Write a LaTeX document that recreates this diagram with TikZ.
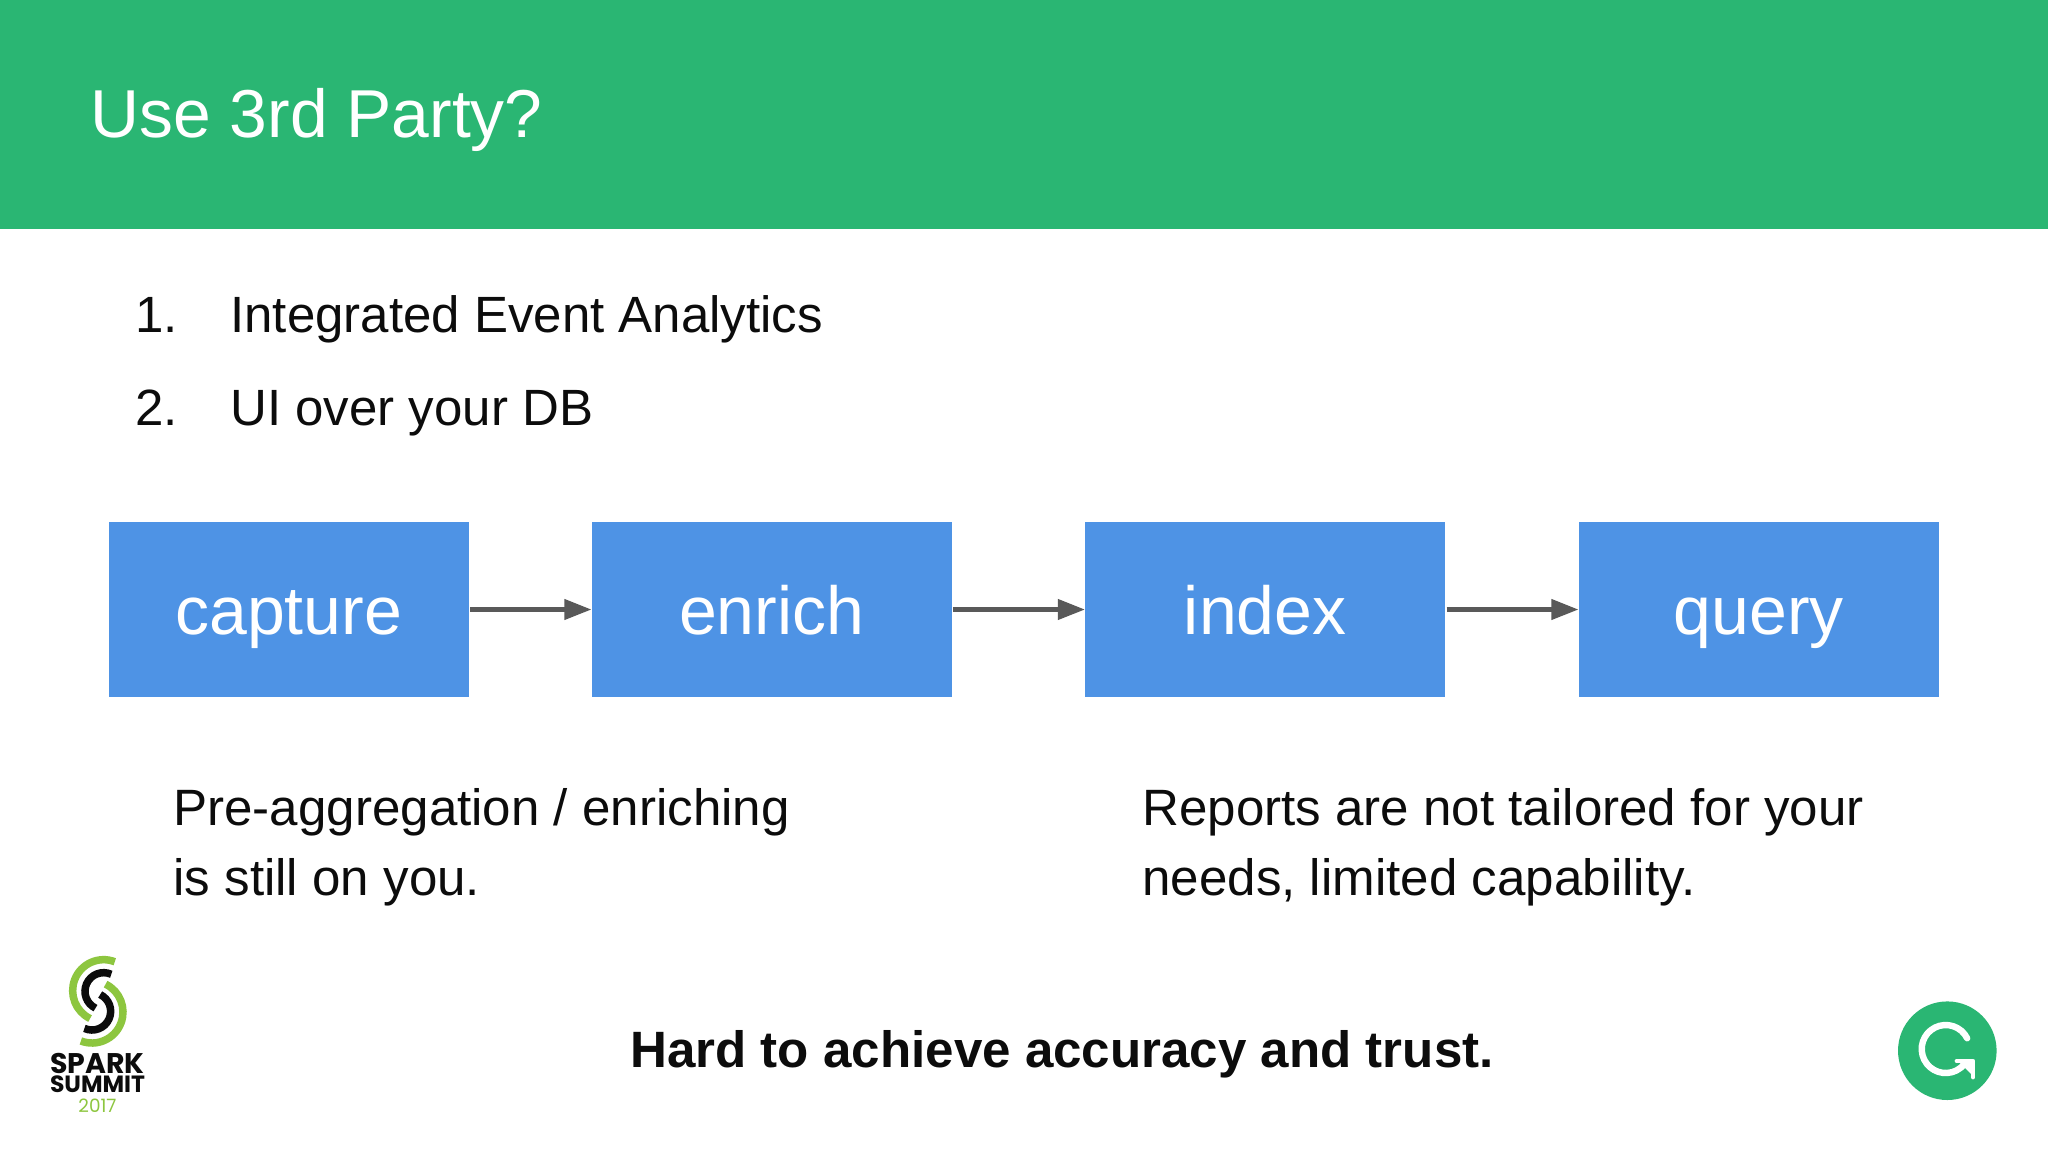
\documentclass[tikz,border=0pt]{standalone}
\usepackage{fontspec}
\setmainfont{Liberation Sans}
\newfontfamily\logofont{Poppins}
\usetikzlibrary{arrows.meta}
\definecolor{hdrgreen}{HTML}{2AB673}
\definecolor{boxblue}{HTML}{4E93E5}
\definecolor{arrowgray}{HTML}{595959}
\definecolor{sparkgreen}{HTML}{8DC63F}
\definecolor{inkblack}{HTML}{0C0C0C}
\tikzset{
  x=0.5pt,y=-0.5pt,
  stagebox/.style={draw=none,fill=boxblue,text=white,minimum width=180pt,minimum height=87.5pt,inner sep=0pt,
    font=\fontsize{34}{40}\selectfont,text height=25pt,text depth=0pt,align=center},
  flow/.style={draw=arrowgray,line width=2.1pt,-{Triangle[length=13.5pt,width=10pt]},shorten <=0.5pt,shorten >=0pt},
  bodytext/.style={inner sep=0pt,text=inkblack,font=\fontsize{25.5}{35.25}\selectfont},
  notetext/.style={inner sep=0pt,text=inkblack,align=left,anchor=base west,font=\fontsize{25.55}{35}\selectfont},
  greenarc/.style={draw=sparkgreen,line width=3.75pt},
  darkarc/.style={draw=inkblack,line width=3.75pt},
  logotext/.style={inner sep=0pt,anchor=base,text=inkblack},
}
\begin{document}
\begin{tikzpicture}
\useasboundingbox (0,0) rectangle (2048,1152);
\fill[white] (0,0) rectangle (2048,1152);
\fill[hdrgreen] (0,0) rectangle (2048,229);
\node[inner sep=0pt,anchor=base west,text=white,font=\fontsize{33.9}{40}\selectfont] (title) at (90,137.5) {Use 3rd Party?};
\node[bodytext,anchor=base east] (n1) at (178.5,332) {1.};
\node[bodytext,anchor=base west] (i1) at (230,332) {Integrated Event Analytics};
\node[bodytext,anchor=base east] (n2) at (178.5,425) {2.};
\node[bodytext,anchor=base west] (i2) at (230,425) {UI over your DB};
\node[stagebox] (capture) at (288.75,609.5) {capture};
\node[stagebox] (enrich) at (771.75,609.5) {enrich};
\node[stagebox] (index) at (1265.25,609.5) {index};
\node[stagebox] (query) at (1758.75,609.5) {query};
\draw[flow] (capture) -- (enrich);
\draw[flow] (enrich) -- (index);
\draw[flow] (index) -- (query);
\node[notetext] (noteA) at (173,895.5) {Pre-aggregation / enriching\\is still on you.};
\node[notetext] (noteB) at (1142,895.5) {Reports are not tailored for your\\needs, limited capability.};
\node[inner sep=0pt,anchor=base west,text=inkblack,font=\bfseries\fontsize{25.55}{30}\selectfont] (trust) at (630,1067) {Hard to achieve accuracy and trust.};
% Spark Summit logo
\draw[greenarc] (103.67,990.67) ++(-69:31) arc[start angle=-69,end angle=-244,radius=31];
\draw[darkarc] (103.67,991.33) ++(-66:18.67) arc[start angle=-66,end angle=-244,radius=18.67];
\draw[greenarc] (92,1012) ++(-249:31) arc[start angle=-249,end angle=-424,radius=31];
\draw[darkarc] (92,1011.33) ++(-246:18.67) arc[start angle=-246,end angle=-424,radius=18.67];
\node[logotext,font=\logofont\bfseries\fontsize{14.2}{16}\selectfont] (spark) at (97.5,1073) {SPARK};
\node[logotext,font=\logofont\bfseries\fontsize{11.75}{14}\selectfont] (summit) at (97.5,1092.5) {SUMMIT};
\node[logotext,text=sparkgreen,font=\logofont\fontsize{9.2}{10}\selectfont] (year) at (97.5,1112) {2017};
% G logo
\fill[hdrgreen] (1947.3,1050.7) circle[radius=49.3];
\draw[white,line width=3.2pt,line cap=round] (1945.7,1049) ++(-26.6:24) arc[start angle=-26.6,end angle=-323,radius=24];
\draw[white,line width=2.4pt,line cap=round,line join=round] (1957,1061) -- (1973,1061) -- (1973,1077);
\fill[white] (1957,1060) -- (1974,1060) -- (1974,1077) -- cycle;
\end{tikzpicture}
\end{document}
